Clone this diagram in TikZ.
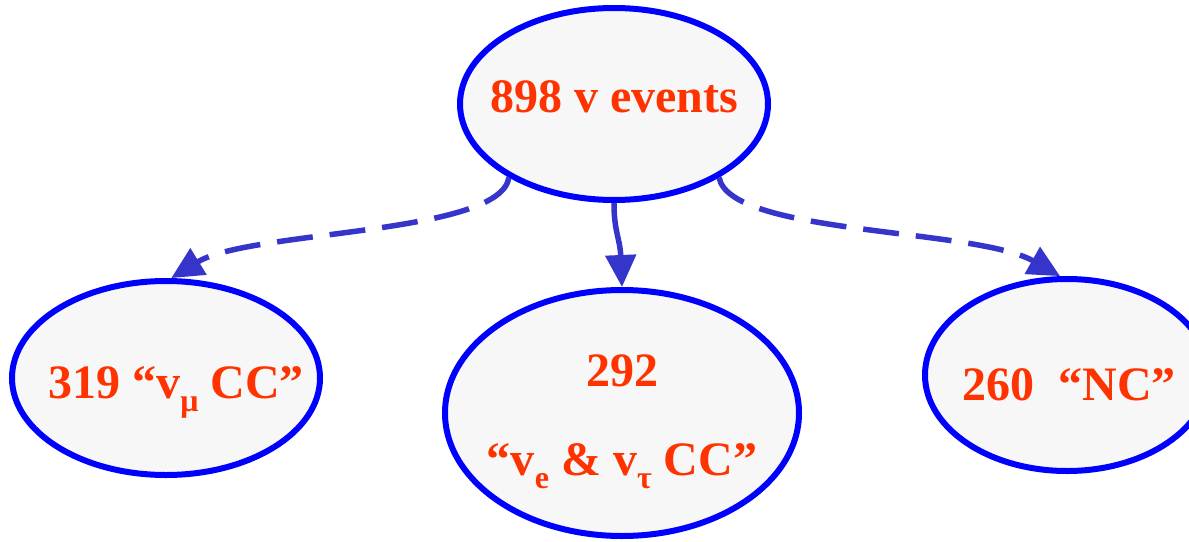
\documentclass[tikz,border=0pt]{standalone}
\usepackage{fontspec}
\setmainfont{Liberation Serif}
\usetikzlibrary{shapes.geometric,arrows.meta}
\definecolor{ovalblue}{HTML}{0000FF}
\definecolor{ovalfill}{HTML}{F7F7F7}
\definecolor{linkblue}{HTML}{3535CC}
\definecolor{labelred}{HTML}{FF3300}
\newcommand{\lowsub}[1]{\raisebox{-13pt}{\fontsize{32}{32}\selectfont #1}}
\tikzset{
  oval/.style={ellipse, draw=ovalblue, fill=ovalfill, line width=6pt, inner sep=0pt},
  txt/.style={text=labelred, font=\fontsize{48}{89}\selectfont\bfseries, align=center, inner sep=0pt},
  link/.style={draw=linkblue, line width=5.5pt, -{Triangle[length=32pt,width=30pt]}},
  dashlink/.style={link, dash pattern=on 36pt off 17pt},
}
\begin{document}
\begin{tikzpicture}[x=1pt,y=-1pt]
\useasboundingbox (0,0) rectangle (1189,541);
\clip (0,0) rectangle (1189,541);

% event classes
\node[oval, minimum width=308pt, minimum height=192pt] (all) at (614,104) {};
\node[oval, minimum width=308pt, minimum height=194pt] (numu) at (166,378) {};
\node[oval, minimum width=354pt, minimum height=246pt] (nue) at (622,413) {};
\node[oval, minimum width=284pt, minimum height=192pt] (nc) at (1067,375) {};

\node[txt] (allt) at (614,97) {898 v events};
\node[txt] (numut) at (176,392) {319 “v\lowsub{μ} CC”};
\node[txt] (nuet) at (622,422) {292\\“v\lowsub{e} \& v\lowsub{τ} CC”};
\node[txt] (nct) at (1069,385) {260\ \ “NC”};

% branches
\draw[dashlink] (all.215) .. controls (500,235) and (250,230) .. (numu.87);
\draw[link] (all.south) .. controls (614,232) and (620,238) .. (nue.north);
\draw[dashlink] (all.325) .. controls (730,235) and (975,228) .. (nc.94);
\end{tikzpicture}
\end{document}
